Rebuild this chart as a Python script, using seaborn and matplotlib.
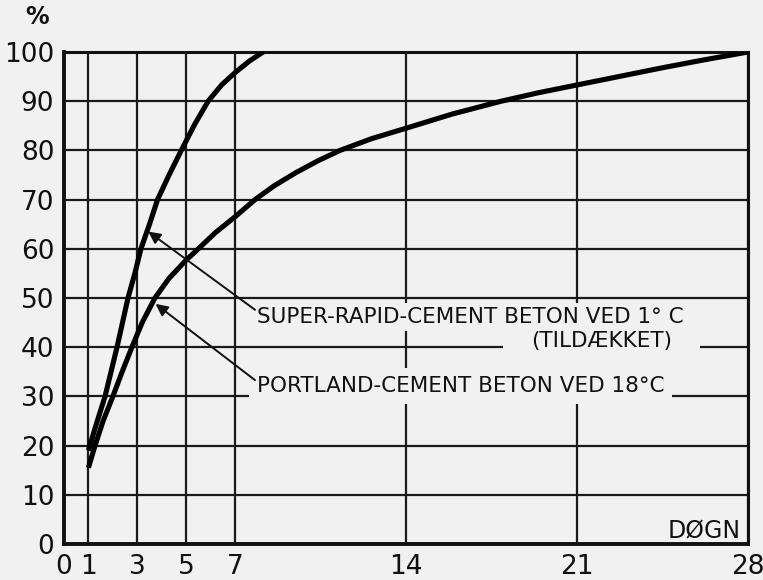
import matplotlib
matplotlib.use("Agg")
import matplotlib.pyplot as plt
import seaborn as sns
import pandas as pd

# ---- data ----
super_days = [1.0, 1.3, 1.68, 2.17, 2.62, 2.9, 3.15, 3.5, 3.83, 4.3, 4.8, 5.35, 5.9,
              6.45, 7.0, 7.6, 8.15]
super_vals = [19, 24, 30, 40, 50, 55, 60, 65, 70, 75, 80, 85.3, 90,
              93.3, 95.8, 98.2, 100]

portland_days = [1.0, 1.27, 1.6, 2.0, 2.38, 2.78, 3.2, 3.72, 4.3, 5.0, 5.5, 6.2, 7.0,
                 7.82, 8.6, 9.5, 10.4, 11.3, 12.6, 14.0, 15.9, 17.9, 19.4, 21.0,
                 22.7, 24.5, 26.2, 28.0]
portland_vals = [15.5, 20, 25, 30, 35, 40, 45, 50, 54, 57.7, 60, 63.3, 66.5,
                 70, 72.8, 75.5, 77.9, 80, 82.4, 84.5, 87.4, 90, 91.7, 93.3,
                 95, 96.8, 98.4, 100]

x_ticks = [0, 1, 3, 5, 7, 14, 21, 28]
y_ticks = [0, 10, 20, 30, 40, 50, 60, 70, 80, 90, 100]

label_super = "SUPER-RAPID-CEMENT BETON VED 1° C"
label_super2 = "(TILDÆKKET)"
label_portland = "PORTLAND-CEMENT BETON VED 18°C"

df = pd.concat([
    pd.DataFrame({"dage": super_days, "pct": super_vals, "serie": "super"}),
    pd.DataFrame({"dage": portland_days, "pct": portland_vals, "serie": "portland"}),
])

sns.set_style("white")
plt.rcParams["font.family"] = ["DejaVu Sans"]

bg = "#f1f1f1"
ink = "#111111"
fig = plt.figure(figsize=(7.63, 5.8), dpi=100, facecolor=bg)
ax = fig.add_axes([64 / 763, 1 - 544 / 580, (748 - 64) / 763, (544 - 52) / 580])
ax.set_facecolor(bg)

sns.lineplot(data=df, x="dage", y="pct", hue="serie", units="serie", estimator=None,
             palette={"super": "black", "portland": "black"}, linewidth=3.7,
             legend=False, ax=ax, zorder=4, solid_capstyle="butt", solid_joinstyle="round")

ax.set_xlim(0, 28)
ax.set_ylim(0, 100)
ax.set_xticks(x_ticks)
ax.set_yticks(y_ticks)
ax.set_xticklabels([str(t) for t in x_ticks])
ax.set_yticklabels([str(t) for t in y_ticks])
ax.set_xlabel("")
ax.set_ylabel("")
ax.grid(True, color="#1a1a1a", linewidth=1.6)
ax.set_axisbelow(True)
ax.tick_params(length=0, labelsize=19, pad=7, colors=ink)
for s in ax.spines.values():
    s.set_color(ink)
    s.set_linewidth(2.2)
ax.spines["left"].set_linewidth(2.8)
ax.spines["bottom"].set_linewidth(2.8)

# percent sign
fig.text(37 / 763, 1 - 17 / 580, "%", ha="center", va="center", fontsize=17,
         fontweight="bold", color=ink)

# axis unit label
ax.text(27.7, 1.3, "DØGN", ha="right", va="baseline", fontsize=17, color=ink, zorder=5)

# wide blank patch behind "(TILDÆKKET)" (text drawn in background colour)
ax.text(24.9, 40.0, label_super2, ha="right", va="baseline", fontsize=15.5, color=bg,
        bbox=dict(facecolor=bg, edgecolor="none", boxstyle="square,pad=1.3"), zorder=5)
ax.text(7.9, 44.9, label_super, ha="left", va="baseline", fontsize=15.5, color=ink,
        bbox=dict(facecolor=bg, edgecolor="none", boxstyle="square,pad=0.2"), zorder=6)
ax.text(7.9, 30.9, label_portland, ha="left", va="baseline", fontsize=15.5, color=ink,
        bbox=dict(facecolor=bg, edgecolor="none", boxstyle="square,pad=0.35"), zorder=6)
ax.text(24.9, 40.0, label_super2, ha="right", va="baseline", fontsize=15.5, color=ink,
        zorder=7)

arrow = dict(arrowstyle="-|>", color=ink, lw=1.4, mutation_scale=18,
             shrinkA=0, shrinkB=0)
ax.annotate("", xy=(3.45, 63.5), xytext=(7.82, 47.6), arrowprops=arrow, zorder=7)
ax.annotate("", xy=(3.75, 48.8), xytext=(7.82, 33.3), arrowprops=arrow, zorder=7)

fig.savefig("out.png", dpi=100, facecolor=bg)
